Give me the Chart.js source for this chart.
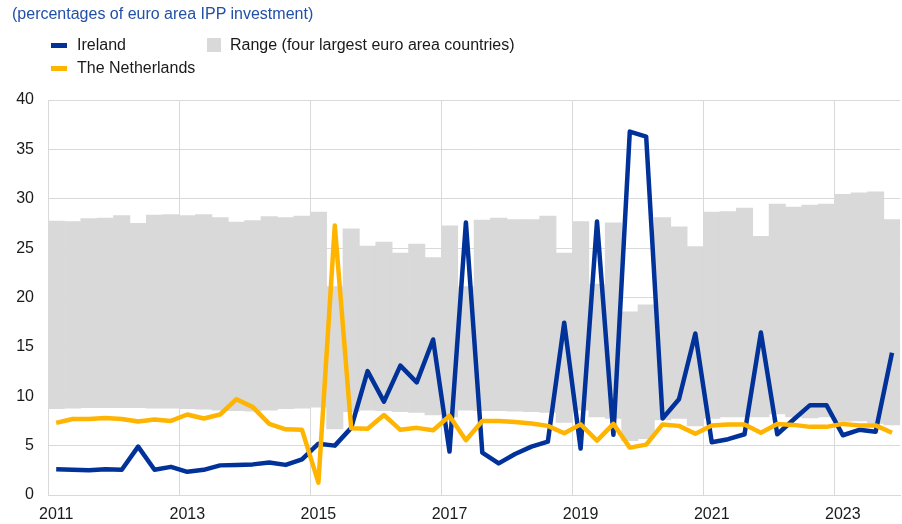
<!DOCTYPE html>
<html>
<head>
<meta charset="utf-8">
<script src="https://cdn.jsdelivr.net/npm/chart.js@4.4.1/dist/chart.umd.min.js"></script>
<style>
  body { margin: 0; background: #fff; font-family: "Liberation Sans", Arial, sans-serif; }
  #wrap { position: relative; width: 902px; height: 524px; }
  #chart { position: absolute; left: 0; top: 0; }
  .txt { position: absolute; font-size: 16px; color: #1a1a1a; white-space: nowrap; line-height: 18px; }
  .sw { position: absolute; }
</style>
</head>
<body>
<div id="wrap">
  <canvas id="chart" width="902" height="524"></canvas>
  <div class="txt" style="left:12px; top:5px; color:#2250a8;">(percentages of euro area IPP investment)</div>
  <div class="sw" style="left:51px; top:43px; width:16px; height:5px; background:#003299;"></div>
  <div class="txt" style="left:77px; top:36px;">Ireland</div>
  <div class="sw" style="left:51px; top:66px; width:16px; height:5px; background:#ffb400;"></div>
  <div class="txt" style="left:77px; top:59px;">The Netherlands</div>
  <div class="sw" style="left:207px; top:38px; width:14px; height:14px; background:#d9d9d9;"></div>
  <div class="txt" style="left:230px; top:36px;">Range (four largest euro area countries)</div>
</div>
<script>
// quarterly data, 2011Q1 - 2023Q4
const years = [2011, 2012, 2013, 2014, 2015, 2016, 2017, 2018, 2019, 2020, 2021, 2022, 2023];
const tickYears = ["2011", "2013", "2015", "2017", "2019", "2021", "2023"];

const quarters = [];
years.forEach(y => { for (let q = 1; q <= 4; q++) quarters.push(y + "Q" + q); });

const ireland = [2.6, 2.55, 2.5, 2.6, 2.55, 4.9, 2.55, 2.85, 2.35, 2.55, 3.0, 3.05, 3.1, 3.3, 3.05, 3.6,
  5.2, 5.0, 6.8, 12.55, 9.45, 13.1, 11.4, 15.75, 4.4, 27.6, 4.3, 3.2, 4.15, 4.9, 5.4, 17.45,
  4.7, 27.7, 6.1, 36.8, 36.3, 7.75, 9.7, 16.35, 5.35, 5.65, 6.15, 16.45, 6.15, 7.65, 9.1, 9.1,
  6.05, 6.6, 6.4, 14.4];

const netherlands = [7.3, 7.7, 7.7, 7.8, 7.7, 7.45, 7.65, 7.5, 8.15, 7.75, 8.15, 9.7, 8.9, 7.2, 6.65, 6.6,
  1.25, 27.3, 6.75, 6.7, 8.1, 6.6, 6.8, 6.55, 8.0, 5.55, 7.5, 7.5, 7.4, 7.25, 7.0, 6.25,
  7.15, 5.5, 7.2, 4.8, 5.1, 7.15, 7.0, 6.2, 7.05, 7.15, 7.15, 6.3, 7.2, 7.1, 6.9, 6.9,
  7.2, 7.05, 7.05, 6.3];

const rangeHigh = [27.75, 27.7, 28.0, 28.05, 28.3, 27.5, 28.35, 28.4, 28.3, 28.4, 28.1, 27.65, 27.8, 28.2, 28.1, 28.25,
  28.65, 21.1, 26.95, 25.2, 25.6, 24.5, 25.4, 24.05, 27.25, 21.1, 27.85, 28.05, 27.9, 27.9, 28.25, 24.5,
  27.7, 21.35, 27.55, 18.55, 19.25, 28.1, 27.15, 25.15, 28.65, 28.7, 29.05, 26.2, 29.45, 29.15, 29.35, 29.45,
  30.45, 30.6, 30.7, 27.9];

const rangeLow = [8.75, 8.8, 8.85, 8.85, 8.85, 8.85, 8.8, 8.8, 8.75, 8.7, 8.6, 8.55, 8.5, 8.6, 8.75, 8.8,
  8.9, 6.7, 8.45, 8.6, 8.55, 8.45, 8.35, 8.1, 7.9, 8.6, 8.55, 8.55, 8.5, 8.45, 8.35, 7.35,
  8.6, 7.9, 7.75, 5.5, 5.7, 7.6, 7.75, 7.0, 7.75, 7.9, 7.9, 7.9, 8.2, 7.9, 7.8, 7.9,
  7.45, 7.5, 7.25, 7.1];

const gridCol = "#d9d9d9";
const font = { family: "'Liberation Sans', Arial, sans-serif", size: 16 };

new Chart(document.getElementById("chart"), {
  type: "bar",
  data: {
    labels: quarters,
    datasets: [
      {
        type: "line",
        label: "The Netherlands",
        data: netherlands,
        borderColor: "#ffb400",
        borderWidth: 4.5,
        pointRadius: 0,
        tension: 0,
        borderJoinStyle: "round",
        order: 0,
      },
      {
        type: "line",
        label: "Ireland",
        data: ireland,
        borderColor: "#003299",
        borderWidth: 4.5,
        pointRadius: 0,
        tension: 0,
        borderJoinStyle: "round",
        order: 1,
      },
      {
        label: "Range (four largest euro area countries)",
        data: rangeHigh.map((h, i) => [rangeLow[i], h]),
        backgroundColor: "#d9d9d9",
        borderWidth: 0,
        barPercentage: 1,
        categoryPercentage: 1,
        order: 2,
      },
    ],
  },
  options: {
    responsive: false,
    animation: false,
    layout: { padding: { top: 100, right: 0, bottom: 0, left: 0 } },
    plugins: { legend: { display: false }, tooltip: { enabled: false } },
    scales: {
      x: {
        offset: true,
        grid: {
          offset: true,
          drawTicks: false,
          color: ctx => (ctx.index !== undefined && ctx.index % 8 === 0 ? gridCol : "rgba(0,0,0,0)"),
        },
        border: { color: gridCol },
        ticks: {
          autoSkip: false,
          maxRotation: 0,
          padding: 10,
          color: "#1a1a1a",
          font: font,
          callback: function (v, i) {
            const lab = quarters[i];
            const y = lab.slice(0, 4);
            return lab.endsWith("Q1") && tickYears.includes(y) ? y : "";
          },
        },
        afterFit: s => { s.height = 29; },
      },
      y: {
        min: 0,
        max: 40,
        ticks: { stepSize: 5, padding: 14, color: "#1a1a1a", font: font },
        grid: { color: gridCol, drawTicks: false },
        border: { color: gridCol },
        afterFit: s => { s.width = 48; },
      },
    },
  },
});
</script>
</body>
</html>
